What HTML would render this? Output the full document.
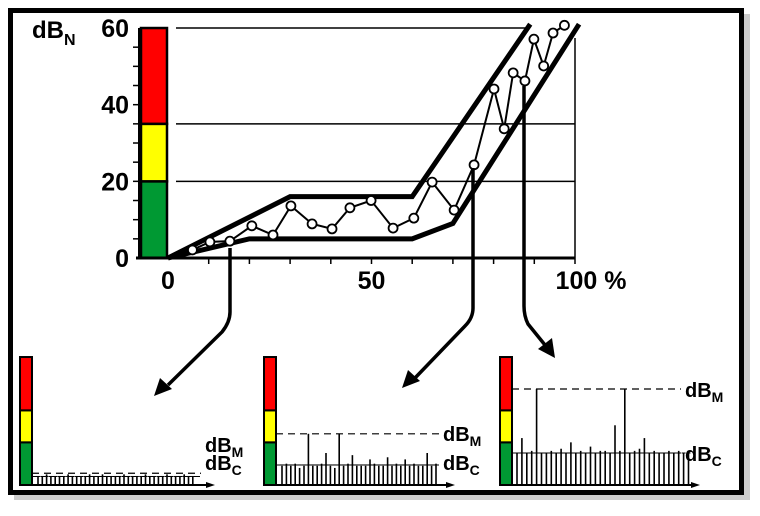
<!DOCTYPE html>
<html><head><meta charset="utf-8"><style>
body{margin:0;background:#fff;}
svg{display:block;font-family:"Liberation Sans",Arial,sans-serif;font-weight:bold;}
</style></head><body>
<svg id="c" width="760" height="516" viewBox="0 0 760 516">
<rect x="14" y="14" width="736" height="486" fill="#999" opacity="0.5"/>
<rect x="10.5" y="10.5" width="731" height="482" fill="#fff" stroke="#000" stroke-width="5"/>
<g id="main"></g>
<g id="panels"></g>
</svg>
<script>
const yTicks=[0,20,40,60];
const xTicks=[0,50,100];
const zones=[[0,20,'#009933'],[20,35,'#ffff00'],[35,60,'#ff0000']];
const gridVals=[20,35,60];
const upperEnv=[[0,0],[30,16],[60,16],[89,61]];
const lowerEnv=[[0,0],[20,5],[60,5],[70,9],[101,61]];
const ptX=[6,10.3,15.2,20.6,25.8,30.2,35.4,40.3,44.7,49.9,55.3,60.4,64.9,70.3,75.2,80.1,82.6,84.8,87.7,89.9,92.3,94.6,97.4];
const ptY=[2.1,4.2,4.4,8.4,6,13.6,8.9,7.6,13.1,15,7.8,10.4,19.8,12.5,24.3,44.1,33.7,48.3,46.2,57.1,50.1,58.7,60.7];
const S=n=>document.createElementNS('http://www.w3.org/2000/svg',n);
function X(v){return 168+v*4.07;}
function Y(v){return 258-v*3.833;}
const M=document.getElementById('main');
function add(p,tag,at,name){const e=S(tag);for(const k in at)e.setAttribute(k,at[k]);


p.appendChild(e);return e;}
zones.forEach(z=>{add(M,'rect',{x:141,y:Y(z[1]),width:26,height:Y(z[0])-Y(z[1]),fill:z[2],stroke:'#000','stroke-width':2.5},'level-zone');});
gridVals.forEach(g=>{add(M,'line',{x1:176,x2:g==60?530:X(100),y1:Y(g),y2:Y(g),stroke:'#000','stroke-width':1.5},'grid-line');});
add(M,'line',{x1:X(100),x2:X(100),y1:38,y2:Y(0),stroke:'#000','stroke-width':1.5},'right-edge');
add(M,'line',{x1:136,x2:X(100),y1:Y(0),y2:Y(0),stroke:'#000','stroke-width':3},'x-axis');
add(M,'line',{x1:139,x2:139,y1:Y(0),y2:Y(60),stroke:'#000','stroke-width':2},'y-axis');
for(let v=5;v<60;v+=5)add(M,'line',{x1:133,x2:139,y1:Y(v),y2:Y(v),stroke:'#000','stroke-width':1.5},'y-minor-tick');
for(let v=10;v<=100;v+=10)add(M,'line',{x1:X(v),x2:X(v),y1:Y(0),y2:Y(0)+6,stroke:'#000','stroke-width':1.5},'x-tick');
yTicks.forEach(t=>{const e=add(M,'text',{x:129,y:Y(t)+9,'text-anchor':'end','font-size':25},'y-tick-label');e.textContent=t;});
xTicks.forEach(t=>{const e=add(M,'text',{x:X(t)+(t==100?16:0),y:289,'text-anchor':'middle','font-size':25},'x-tick-label');e.textContent=t==100?'100 %':t;});
const yl=add(M,'text',{x:32,y:38,'font-size':24},'y-axis-title');yl.innerHTML='dB<tspan font-size="16" dy="7">N</tspan>';
const pts=a=>a.map(p=>X(p[0])+','+Y(p[1])).join(' ');
add(M,'polyline',{points:pts(upperEnv),fill:'none',stroke:'#000','stroke-width':5},'upper-envelope');
add(M,'polyline',{points:pts(lowerEnv),fill:'none',stroke:'#000','stroke-width':5},'lower-envelope');
add(M,'polyline',{points:ptX.map((x,i)=>X(x)+','+Y(ptY[i])).join(' '),fill:'none',stroke:'#000','stroke-width':2},'measurement-line');
ptX.forEach((x,i)=>add(M,'circle',{cx:X(x),cy:Y(ptY[i]),r:4.5,fill:'#fff',stroke:'#000','stroke-width':1.8},'measurement-point'));
const conns=['M230 248 L230 312 Q230 322 222 332 L168 385','M473 168 L473 308 Q473 318 465 326 L415 378','M524 86 L524 306 Q524 316 528 324 L545 345'];
conns.forEach(c=>{add(M,'path',{d:c,fill:'none',stroke:'#000','stroke-width':3.5},'connector-line');});
add(M,'polygon',{points:'154,396 160,378 172,389',fill:'#000'},'arrow-head');
add(M,'polygon',{points:'402,388 408,370 420,381',fill:'#000'},'arrow-head');
add(M,'polygon',{points:'555,358 538,349 552,338',fill:'#000'},'arrow-head');
const p1Spikes=[4,4,5,4,4,4,4,5,4,4,4,4,5,4,4,5,4,4,4,4,5,4,4,4,4,5,4,4,4,4,5,4,4,4,5,4,4];
const p2Spikes=[9,10,9,10,8,9,24,9,9,10,15,9,8,24,9,10,14,9,9,9,12,10,9,9,13,9,10,9,12,9,10,9,9,15,9,10];
const p3Spikes=[15,22,15,16,45,15,15,16,15,17,15,20,15,16,15,18,15,16,16,15,28,16,45,15,16,17,22,15,16,15,15,16,15,16,15,15];
const panels=[{x:20,spikes:p1Spikes,m:5.5,c:4,end:215,lx:205,start:38,step:4.3,lm:452,lc:470},
{x:264,spikes:p2Spikes,m:24,c:9.4,end:455,lx:443,start:282,step:4.4,lm:441,lc:470},
{x:500,spikes:p3Spikes,m:45,c:15,end:700,lx:685,start:517,step:4.9,lm:397,lc:461}];
const P=document.getElementById('panels');
panels.forEach((p,pi)=>{
 const g=add(P,'g',{},'spectrum-panel-'+(pi+1));
 const py=v=>485-v*2.133;
 zones.forEach(z=>add(g,'rect',{x:p.x,y:py(z[1]),width:12,height:py(z[0])-py(z[1]),fill:z[2],stroke:'#000','stroke-width':2},'panel-level-zone'));
 add(g,'line',{x1:p.x+12,x2:p.end-6,y1:485,y2:485,stroke:'#000','stroke-width':2},'panel-baseline');
 add(g,'polygon',{points:`${p.end},485 ${p.end-9},482 ${p.end-9},488`,fill:'#000'},'panel-arrow');
 p.spikes.forEach((s,i)=>{const x=p.start+i*p.step;
  add(g,'line',{x1:x,x2:x,y1:485,y2:py(s),stroke:'#000','stroke-width':1.6},'spectrum-spike');
  add(g,'line',{x1:x-2,x2:x+2,y1:py(p.c),y2:py(p.c),stroke:'#000','stroke-width':1},'spike-cap');});
 add(g,'line',{x1:p.x+12,x2:p.lx-4,y1:py(p.m),y2:py(p.m),stroke:'#000','stroke-width':1.2,'stroke-dasharray':'7,5'},'dbm-line');
 add(g,'line',{x1:p.x+12,x2:p.lx-4,y1:py(p.c),y2:py(p.c),stroke:'#000','stroke-width':1,'stroke-dasharray':pi==0?'6,3':'none'},'dbc-line');
 const tm=add(g,'text',{x:p.lx,y:p.lm,'font-size':20},'dbm-label');tm.innerHTML='dB<tspan font-size="14" dy="5">M</tspan>';
 const tc=add(g,'text',{x:p.lx,y:p.lc,'font-size':20},'dbc-label');tc.innerHTML='dB<tspan font-size="14" dy="5">C</tspan>';
});
</script>
</body></html>
